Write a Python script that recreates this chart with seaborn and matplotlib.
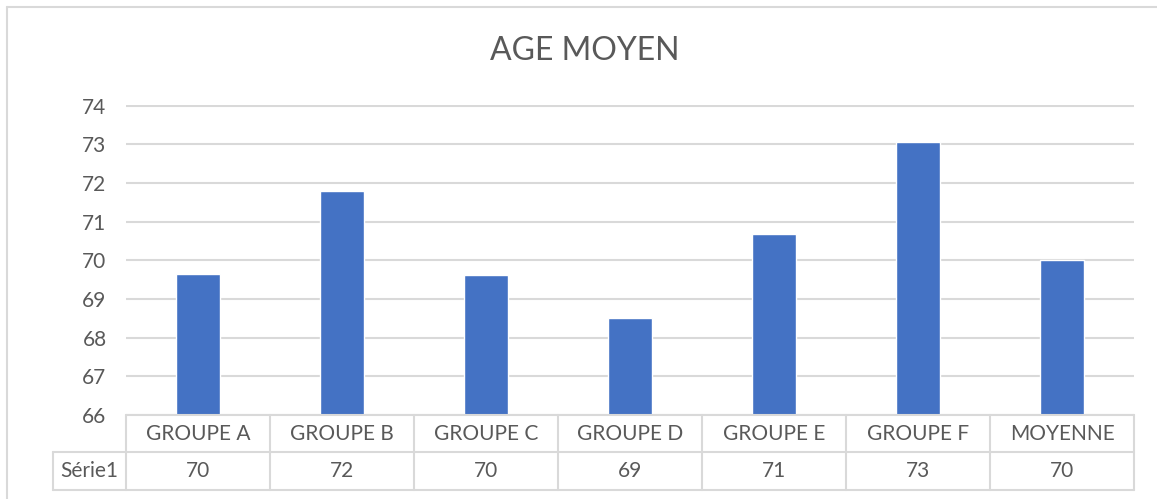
import matplotlib
matplotlib.use("Agg")
import matplotlib.pyplot as plt
import seaborn as sns
import pandas as pd
from matplotlib.lines import Line2D

groups = ["GROUPE A", "GROUPE B", "GROUPE C", "GROUPE D", "GROUPE E", "GROUPE F", "MOYENNE"]
ages = [69.65, 71.78, 69.61, 68.52, 70.67, 73.06, 70.0]
series_name = "Série1"
title = "AGE MOYEN"

W, H = 1157, 499
TXT = "#595959"
GRID = "#d9d9d9"
BAR = "#4472c4"

sns.set_theme(style="white")
plt.rcParams["font.family"] = ["Lato", "DejaVu Sans"]

df = pd.DataFrame({"groupe": groups, "age": ages})

fig = plt.figure(figsize=(W / 100, H / 100), dpi=100)

# pixel helpers (origin top-left)
def fx(px):
    return px / W

def fy(py):
    return 1 - py / H

x0, x1 = 126, 1134
y_top, y_bot = 105.5, 415
ax = fig.add_axes([fx(x0), fy(y_bot), fx(x1) - fx(x0), fy(y_top) - fy(y_bot)])

sns.barplot(data=df, x="groupe", y="age", color=BAR, width=0.31,
            saturation=1, ax=ax, zorder=3)
ax.set_ylim(66, 74)
ax.set_xlim(-0.5, len(groups) - 0.5)
ax.set_yticks(range(66, 75))
ax.yaxis.grid(True, color=GRID, linewidth=1.5, zorder=0)
ax.set_axisbelow(True)
for s in ax.spines.values():
    s.set_visible(False)
ax.set_xticks([])
ax.set_xlabel("")
ax.set_ylabel("")
ax.tick_params(axis="y", length=0, pad=14, labelsize=15, labelcolor=TXT)

# outer chart border (left and top)
fig.add_artist(Line2D([fx(7), fx(7)], [fy(7), fy(499)], color=GRID, lw=1.5))
fig.add_artist(Line2D([fx(7), fx(1157)], [fy(7), fy(7)], color=GRID, lw=1.5))

# data table under the plot
col_w = (x1 - x0) / len(groups)
r0, r1, r2 = 415, 452, 490
lab_x = 53

def hline(xa, xb, y):
    fig.add_artist(Line2D([fx(xa), fx(xb)], [fy(y), fy(y)], color=GRID, lw=1.5))

def vline(x, ya, yb):
    fig.add_artist(Line2D([fx(x), fx(x)], [fy(ya), fy(yb)], color=GRID, lw=1.5))

hline(x0, x1, r0)
hline(lab_x, x1, r1)
hline(lab_x, x1, r2)
vline(lab_x, r1, r2)
for i in range(len(groups) + 1):
    vline(x0 + i * col_w, r0, r2)

for i, (g, v) in enumerate(zip(groups, ages)):
    cx = x0 + (i + 0.5) * col_w
    fig.text(fx(cx), fy((r0 + r1) / 2), g, ha="center", va="center",
             fontsize=15, color=TXT)
    fig.text(fx(cx), fy((r1 + r2) / 2), f"{round(v)}", ha="center", va="center",
             fontsize=15, color=TXT)
fig.text(fx((lab_x + x0) / 2), fy((r1 + r2) / 2), series_name, ha="center",
         va="center", fontsize=15, color=TXT)

fig.text(fx(585), fy(51), title, ha="center", va="center", fontsize=23, color=TXT)

fig.savefig("out.png", dpi=100, facecolor="white")
